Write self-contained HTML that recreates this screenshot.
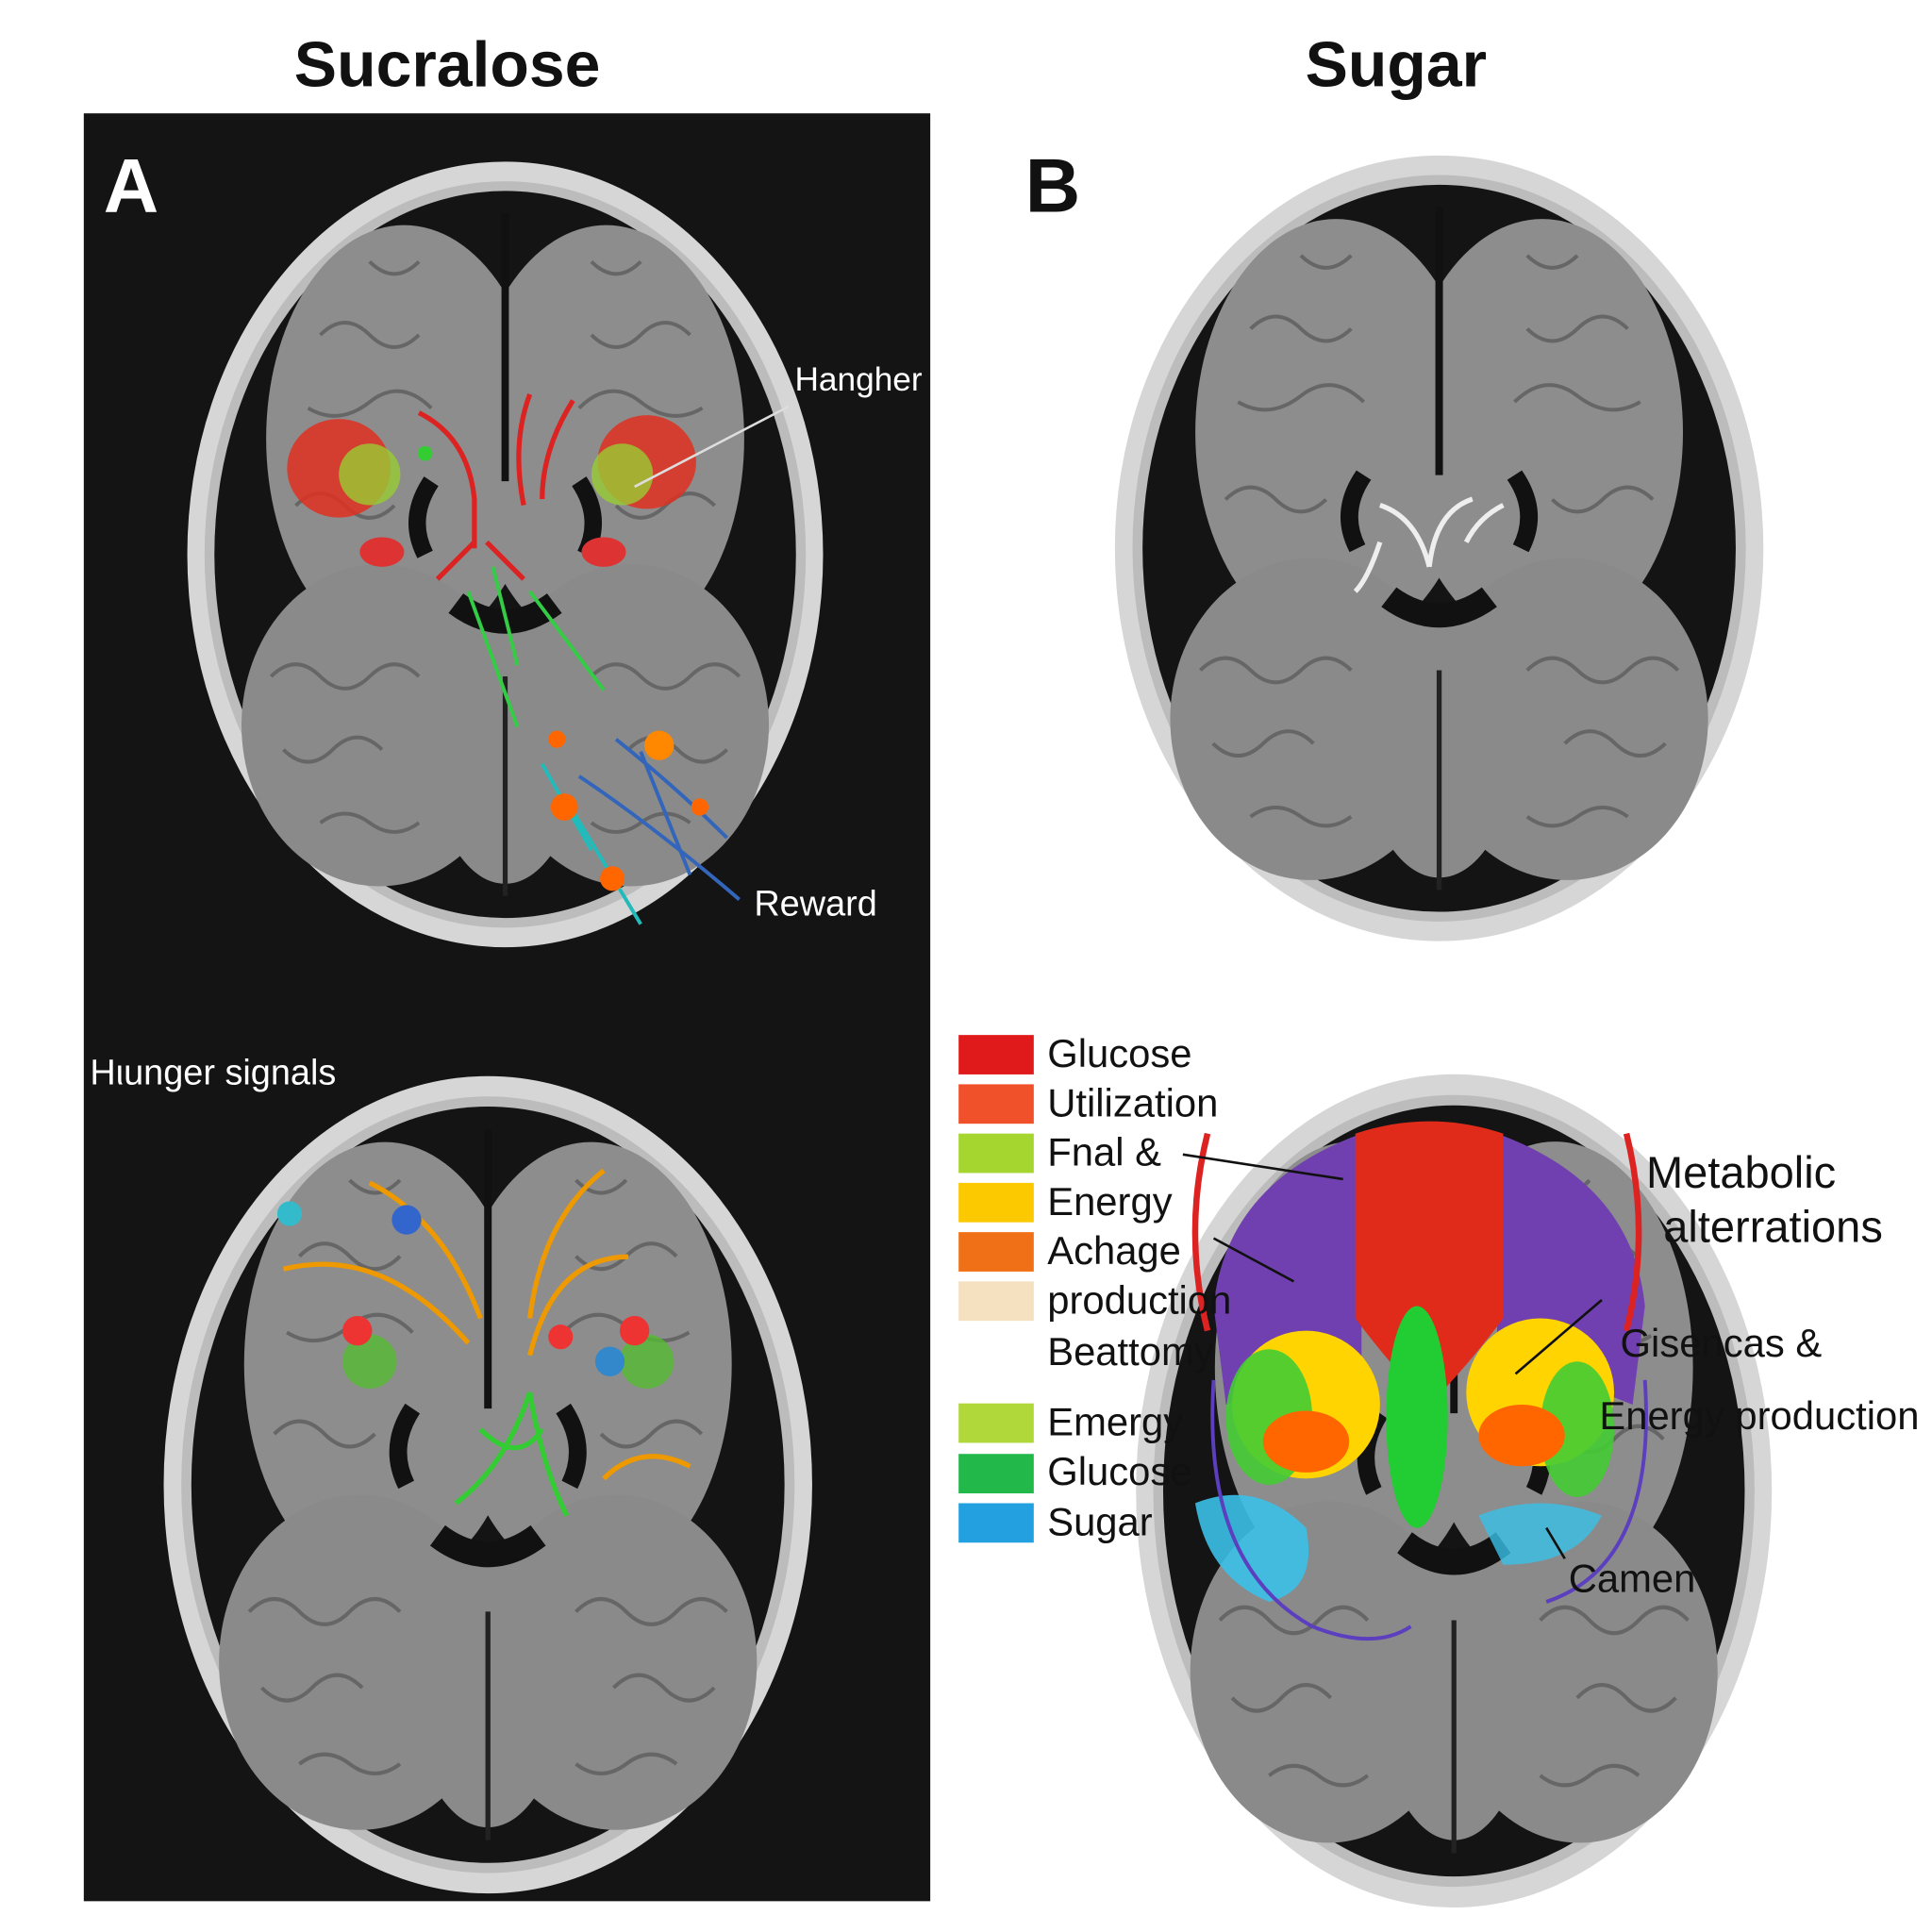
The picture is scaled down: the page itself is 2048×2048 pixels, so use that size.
<!DOCTYPE html>
<html><head><meta charset="utf-8"><style>
html,body{margin:0;padding:0;background:#fff;width:2048px;height:2048px;overflow:hidden}
svg{display:block}
text{font-family:"Liberation Sans",sans-serif}
</style></head><body>
<svg width="2048" height="2048" viewBox="0 0 1568 1568" xmlns="http://www.w3.org/2000/svg">
<defs>
<g id="brain">
  <ellipse cx="0" cy="0" rx="258" ry="322" fill="#d6d6d6"/>
  <ellipse cx="0" cy="0" rx="244" ry="306" fill="#bcbcbc"/>
  <ellipse cx="0" cy="0" rx="236" ry="298" fill="#141414"/>
  <ellipse cx="-82" cy="-95" rx="112" ry="175" fill="#8d8d8d"/>
  <ellipse cx="82" cy="-95" rx="112" ry="175" fill="#8d8d8d"/>
  <ellipse cx="-102" cy="140" rx="112" ry="132" fill="#8a8a8a"/>
  <ellipse cx="102" cy="140" rx="112" ry="132" fill="#8a8a8a"/>
  <ellipse cx="0" cy="160" rx="60" ry="110" fill="#8a8a8a"/>
  <line x1="0" y1="-280" x2="0" y2="-60" stroke="#111" stroke-width="6"/>
  <line x1="0" y1="100" x2="0" y2="280" stroke="#222" stroke-width="4"/>
  <path d="M-60,-60 q-20,30 -5,60 M60,-60 q20,30 5,60" stroke="#111" stroke-width="14" fill="none"/>
  <path d="M-40,40 q40,30 80,0" stroke="#111" stroke-width="20" fill="none"/>
  <g stroke="#666" stroke-width="3" fill="none">
    <path d="M-150,-180 q20,-20 40,0 t40,0 M-160,-120 q25,15 50,-5 t50,5 M-170,-40 q20,-20 40,0 t40,0 M-110,-240 q20,20 40,0"/>
    <path d="M150,-180 q-20,-20 -40,0 t-40,0 M160,-120 q-25,15 -50,-5 t-50,5 M170,-40 q-20,-20 -40,0 t-40,0 M110,-240 q-20,20 -40,0"/>
    <path d="M-190,100 q20,-20 40,0 t40,0 t40,0 M-180,160 q20,20 40,0 t40,0 M-150,220 q20,-15 40,0 t40,0"/>
    <path d="M190,100 q-20,-20 -40,0 t-40,0 t-40,0 M180,160 q-20,20 -40,0 t-40,0 M150,220 q-20,-15 -40,0 t-40,0"/>
  </g>
</g>
</defs>
<rect width="1568" height="1568" fill="#fff"/>
<text x="363" y="70" font-size="52" font-weight="bold" text-anchor="middle" fill="#111">Sucralose</text>
<text x="1133" y="70" font-size="52" font-weight="bold" text-anchor="middle" fill="#111">Sugar</text>
<rect x="68" y="92" width="687" height="1451" fill="#141414"/>

<use href="#brain" transform="translate(410,450) scale(1,0.99)"/>
<use href="#brain" transform="translate(396,1205) scale(1.02,1.03)"/>
<use href="#brain" transform="translate(1168,445) scale(1.02,0.99)"/>
<use href="#brain" transform="translate(1180,1210) scale(1.0,1.05)"/>

<text x="84" y="172" font-size="62" font-weight="bold" fill="#fff">A</text>
<text x="832" y="172" font-size="62" font-weight="bold" fill="#111">B</text>

<ellipse cx="275" cy="380" rx="42" ry="40" fill="#e03020" opacity="0.85"/>
<ellipse cx="300" cy="385" rx="25" ry="25" fill="#9c3" opacity="0.8"/>
<ellipse cx="525" cy="375" rx="40" ry="38" fill="#e03020" opacity="0.85"/>
<ellipse cx="505" cy="385" rx="25" ry="25" fill="#9c3" opacity="0.8"/>
<ellipse cx="310" cy="448" rx="18" ry="12" fill="#d33"/>
<ellipse cx="490" cy="448" rx="18" ry="12" fill="#d33"/>
<g stroke="#d22" stroke-width="4" fill="none">
<path d="M340,335 q40,20 45,70 l0,40 M430,320 q-15,40 -5,90 M465,325 q-25,40 -25,80 M385,440 l-30,30 M395,440 l30,30"/>
</g>
<g stroke="#3c4" stroke-width="3" fill="none"><path d="M400,460 l20,80 M430,480 l60,80 M380,480 l40,110"/></g>
<g stroke="#36b" stroke-width="3" fill="none"><path d="M500,600 q50,40 90,80 M520,610 l40,100 M470,630 q60,40 130,100"/></g>
<g stroke="#2bb" stroke-width="3" fill="none"><path d="M460,650 l60,100 M440,620 l40,70"/></g>
<circle cx="535" cy="605" r="12" fill="#f80"/><circle cx="458" cy="655" r="11" fill="#f60"/>
<circle cx="497" cy="713" r="10" fill="#f60"/><circle cx="568" cy="655" r="7" fill="#f60"/>
<circle cx="452" cy="600" r="7" fill="#f60"/><circle cx="345" cy="368" r="6" fill="#3c3"/>
<line x1="515" y1="395" x2="640" y2="330" stroke="#ddd" stroke-width="2"/>
<text x="645" y="317" font-size="27" fill="#fff">Hangher</text>
<text x="612" y="743" font-size="29" fill="#fff">Reward</text>
<text x="73" y="880" font-size="29" fill="#fff">Hιunger signals</text>

<g stroke="#e90" stroke-width="4" fill="none">
<path d="M230,1030 q80,-20 150,60 M300,960 q60,30 90,110 M490,950 q-50,40 -60,120 M510,1020 q-60,0 -80,80 M490,1200 q30,-30 70,-10"/>
</g>
<g stroke="#3c3" stroke-width="4" fill="none"><path d="M430,1130 q-20,60 -60,90 M430,1130 q10,60 30,100 M390,1160 q30,30 50,0"/></g>
<ellipse cx="300" cy="1105" rx="22" ry="22" fill="#5b3" opacity="0.8"/>
<ellipse cx="525" cy="1105" rx="22" ry="22" fill="#5b3" opacity="0.8"/>
<circle cx="290" cy="1080" r="12" fill="#e33"/><circle cx="515" cy="1080" r="12" fill="#e33"/>
<circle cx="455" cy="1085" r="10" fill="#e33"/><circle cx="330" cy="990" r="12" fill="#36c"/>
<circle cx="495" cy="1105" r="12" fill="#38c"/><circle cx="235" cy="985" r="10" fill="#3bc"/>

<g stroke="#eee" stroke-width="4" fill="none"><path d="M1120,410 q30,10 40,50 M1195,405 q-30,10 -35,55 M1220,410 q-20,10 -30,30 M1120,440 q-10,30 -20,40"/></g>

<path d="M985,1060 q10,-100 120,-140 l0,180 q-60,20 -110,40 z" fill="#7040b0"/>
<path d="M1335,1060 q-10,-100 -120,-140 l0,180 q60,20 110,40 z" fill="#7040b0"/>
<path d="M1100,920 q60,-20 120,0 l0,150 q-30,40 -60,70 q-30,-30 -60,-70 z" fill="#e02a1a"/>
<ellipse cx="1150" cy="1150" rx="25" ry="90" fill="#2c3"/>
<ellipse cx="1060" cy="1140" rx="60" ry="60" fill="#ffd400"/>
<ellipse cx="1250" cy="1130" rx="60" ry="60" fill="#ffd400"/>
<ellipse cx="1030" cy="1150" rx="35" ry="55" fill="#4c3" opacity="0.9"/>
<ellipse cx="1280" cy="1160" rx="30" ry="55" fill="#4c3" opacity="0.9"/>
<ellipse cx="1060" cy="1170" rx="35" ry="25" fill="#f60"/>
<ellipse cx="1235" cy="1165" rx="35" ry="25" fill="#f60"/>
<path d="M970,1220 q50,-20 90,20 q10,50 -30,60 q-50,-20 -60,-80z" fill="#3ac0e8" opacity="0.9"/>
<path d="M1200,1230 q50,-20 100,0 q-20,40 -80,40z" fill="#3ac0e8" opacity="0.8"/>
<path d="M980,920 q-20,80 0,160 M1320,920 q20,80 0,160" stroke="#d22" stroke-width="5" fill="none"/>
<g stroke="#5b3fbf" stroke-width="3" fill="none"><path d="M985,1120 q-10,150 80,200 q50,20 80,0 M1335,1120 q10,150 -80,180"/></g>
<g stroke="#111" stroke-width="2"><path d="M960,937 l130,20 M985,1005 l65,35 M1230,1115 l70,-60 M1255,1240 l15,25"/></g>

<g>
<rect x="778" y="840" width="61" height="32" fill="#e01a1a"/>
<rect x="778" y="880" width="61" height="32" fill="#f0502a"/>
<rect x="778" y="920" width="61" height="32" fill="#a5d630"/>
<rect x="778" y="960" width="61" height="32" fill="#fcc800"/>
<rect x="778" y="1000" width="61" height="32" fill="#f07018"/>
<rect x="778" y="1040" width="61" height="32" fill="#f5e0c0"/>
<rect x="778" y="1139" width="61" height="32" fill="#b0d83a"/>
<rect x="778" y="1180" width="61" height="32" fill="#22b84a"/>
<rect x="778" y="1220" width="61" height="32" fill="#22a0e0"/>
</g>
<g font-size="32" fill="#111">
<text x="850" y="866">Glucose</text>
<text x="850" y="906">Utilization</text>
<text x="850" y="946">Fnal &amp;</text>
<text x="850" y="986">Energy</text>
<text x="850" y="1026">Achage</text>
<text x="850" y="1066">production</text>
<text x="850" y="1108">Beattomy</text>
<text x="850" y="1165">Emergy</text>
<text x="850" y="1205">Glucose</text>
<text x="850" y="1246">Sugar</text>
<text x="1336" y="964" font-size="36">Metabolic</text>
<text x="1350" y="1008" font-size="36">alterrations</text>
<text x="1315" y="1101">Gisencas &amp;</text>
<text x="1298" y="1160">Energy production</text>
<text x="1273" y="1292">Camen</text>
</g>
</svg>
</body></html>
